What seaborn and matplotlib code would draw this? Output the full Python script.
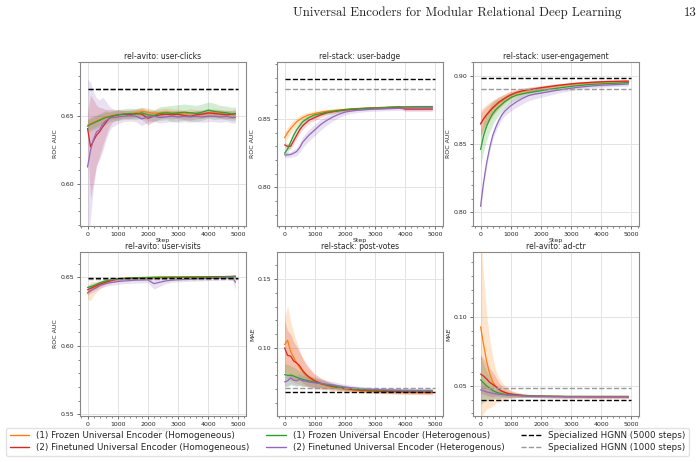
import numpy as np
import pandas as pd
import matplotlib
matplotlib.use("Agg")
import matplotlib.pyplot as plt
from matplotlib.ticker import MultipleLocator, AutoMinorLocator
from matplotlib.lines import Line2D
import seaborn as sns

# training steps shared by all runs
steps = [0, 100, 200, 300, 400, 500, 600, 700, 800, 900, 1000, 1200, 1400, 1600, 1800, 2000,
         2200, 2400, 2600, 2800, 3000, 3200, 3400, 3600, 3800, 4000, 4200, 4400, 4600, 4800, 4900]

models = ["(1) Frozen Universal Encoder (Homogeneous)",
          "(2) Finetuned Universal Encoder (Homogeneous)",
          "(1) Frozen Universal Encoder (Heterogenous)",
          "(2) Finetuned Universal Encoder (Heterogenous)"]
colors = ["#ff7f0e", "#d62728", "#2ca02c", "#9467bd"]

titles = ["rel-avito: user-clicks", "rel-stack: user-badge", "rel-stack: user-engagement",
          "rel-avito: user-visits", "rel-stack: post-votes", "rel-avito: ad-ctr"]
metrics = ["ROC AUC", "ROC AUC", "ROC AUC", "ROC AUC", "MAE", "MAE"]
hgnn_5000 = [0.6700, 0.8793, 0.8985, 0.6493, 0.0678, 0.0393]
hgnn_1000 = [0.6698, 0.8717, 0.8900, 0.6492, 0.0707, 0.0483]

# ---- rel-avito: user-clicks
clicks_mean = [
    [0.6435, 0.6445, 0.6455, 0.6465, 0.6475, 0.6485, 0.6495, 0.6500, 0.6505, 0.6508, 0.6510, 0.6515, 0.6520, 0.6525, 0.6535, 0.6530,
     0.6520, 0.6525, 0.6530, 0.6525, 0.6520, 0.6515, 0.6525, 0.6520, 0.6515, 0.6520, 0.6525, 0.6520, 0.6515, 0.6510, 0.6510],
    [0.6410, 0.6275, 0.6320, 0.6360, 0.6385, 0.6420, 0.6450, 0.6480, 0.6500, 0.6505, 0.6510, 0.6515, 0.6510, 0.6520, 0.6515, 0.6485,
     0.6500, 0.6510, 0.6515, 0.6510, 0.6515, 0.6505, 0.6500, 0.6510, 0.6515, 0.6525, 0.6520, 0.6515, 0.6510, 0.6515, 0.6520],
    [0.6425, 0.6440, 0.6450, 0.6460, 0.6470, 0.6480, 0.6490, 0.6495, 0.6500, 0.6505, 0.6510, 0.6515, 0.6520, 0.6515, 0.6525, 0.6510,
     0.6505, 0.6520, 0.6525, 0.6520, 0.6525, 0.6530, 0.6525, 0.6520, 0.6530, 0.6545, 0.6535, 0.6530, 0.6525, 0.6515, 0.6520],
    [0.6125, 0.6250, 0.6330, 0.6385, 0.6400, 0.6440, 0.6465, 0.6480, 0.6490, 0.6490, 0.6495, 0.6500, 0.6505, 0.6500, 0.6480, 0.6495,
     0.6500, 0.6490, 0.6495, 0.6500, 0.6495, 0.6500, 0.6495, 0.6500, 0.6495, 0.6500, 0.6500, 0.6495, 0.6500, 0.6490, 0.6490]]
clicks_std = [
    [0.004, 0.004, 0.004, 0.004, 0.004, 0.0035, 0.0035, 0.003, 0.003, 0.003, 0.003, 0.003, 0.003, 0.003, 0.003, 0.003,
     0.003, 0.003, 0.003, 0.003, 0.003, 0.003, 0.003, 0.003, 0.003, 0.003, 0.003, 0.003, 0.003, 0.003, 0.003],
    [0.012, 0.038, 0.030, 0.022, 0.018, 0.014, 0.010, 0.007, 0.005, 0.004, 0.004, 0.003, 0.003, 0.003, 0.004, 0.005,
     0.004, 0.003, 0.003, 0.003, 0.003, 0.003, 0.003, 0.003, 0.003, 0.003, 0.003, 0.003, 0.003, 0.003, 0.003],
    [0.005, 0.005, 0.005, 0.005, 0.005, 0.005, 0.005, 0.004, 0.004, 0.004, 0.004, 0.004, 0.004, 0.004, 0.004, 0.004,
     0.004, 0.005, 0.005, 0.006, 0.006, 0.006, 0.006, 0.006, 0.006, 0.006, 0.006, 0.005, 0.005, 0.005, 0.005],
    [0.065, 0.050, 0.035, 0.025, 0.022, 0.020, 0.015, 0.010, 0.007, 0.006, 0.005, 0.004, 0.004, 0.004, 0.005, 0.004,
     0.004, 0.004, 0.004, 0.004, 0.004, 0.004, 0.004, 0.004, 0.004, 0.004, 0.004, 0.004, 0.004, 0.004, 0.004]]

# ---- rel-stack: user-badge
badge_mean = [
    [0.8363, 0.8400, 0.8430, 0.8455, 0.8480, 0.8495, 0.8510, 0.8520, 0.8530, 0.8535, 0.8540, 0.8550, 0.8557, 0.8562, 0.8566, 0.8570,
     0.8573, 0.8576, 0.8578, 0.8580, 0.8582, 0.8584, 0.8585, 0.8587, 0.8588, 0.8590, 0.8590, 0.8590, 0.8590, 0.8590, 0.8590],
    [0.8310, 0.8300, 0.8300, 0.8340, 0.8380, 0.8420, 0.8450, 0.8470, 0.8490, 0.8500, 0.8510, 0.8530, 0.8545, 0.8553, 0.8560, 0.8566,
     0.8570, 0.8573, 0.8576, 0.8578, 0.8580, 0.8582, 0.8584, 0.8586, 0.8588, 0.8572, 0.8572, 0.8572, 0.8572, 0.8572, 0.8572],
    [0.8249, 0.8280, 0.8330, 0.8380, 0.8420, 0.8450, 0.8480, 0.8495, 0.8510, 0.8520, 0.8530, 0.8540, 0.8550, 0.8555, 0.8562, 0.8568,
     0.8572, 0.8575, 0.8577, 0.8579, 0.8580, 0.8582, 0.8584, 0.8585, 0.8587, 0.8588, 0.8589, 0.8590, 0.8590, 0.8590, 0.8590],
    [0.8237, 0.8237, 0.8240, 0.8250, 0.8262, 0.8290, 0.8330, 0.8355, 0.8380, 0.8400, 0.8420, 0.8460, 0.8490, 0.8515, 0.8535, 0.8550,
     0.8558, 0.8563, 0.8567, 0.8570, 0.8572, 0.8574, 0.8576, 0.8577, 0.8578, 0.8580, 0.8580, 0.8581, 0.8581, 0.8582, 0.8582]]
badge_std = [
    [0.004, 0.004, 0.0038, 0.0035, 0.003, 0.003, 0.0025, 0.0025, 0.002, 0.002, 0.002, 0.0015, 0.0015, 0.0012, 0.0012, 0.001,
     0.001, 0.001, 0.001, 0.001, 0.001, 0.001, 0.001, 0.001, 0.001, 0.001, 0.001, 0.001, 0.001, 0.001, 0.001],
    [0.002, 0.002, 0.002, 0.0025, 0.0025, 0.0025, 0.0025, 0.0025, 0.002, 0.002, 0.002, 0.002, 0.0015, 0.0015, 0.0012, 0.001,
     0.001, 0.001, 0.001, 0.001, 0.001, 0.001, 0.001, 0.001, 0.0012, 0.0015, 0.0015, 0.0015, 0.0015, 0.0015, 0.0015],
    [0.003, 0.003, 0.003, 0.003, 0.003, 0.0028, 0.0025, 0.0022, 0.002, 0.002, 0.002, 0.0015, 0.0015, 0.0012, 0.0012, 0.001,
     0.001, 0.001, 0.001, 0.001, 0.001, 0.001, 0.001, 0.001, 0.001, 0.001, 0.001, 0.001, 0.001, 0.001, 0.001],
    [0.002, 0.002, 0.002, 0.0025, 0.003, 0.0035, 0.004, 0.004, 0.0042, 0.0042, 0.0042, 0.004, 0.0035, 0.003, 0.0025, 0.002,
     0.0018, 0.0016, 0.0015, 0.0015, 0.0015, 0.0015, 0.0015, 0.0015, 0.0015, 0.0015, 0.0015, 0.0015, 0.0015, 0.0015, 0.0015]]

# ---- rel-stack: user-engagement
engage_mean = [
    [0.8652, 0.8680, 0.8710, 0.8735, 0.8760, 0.8780, 0.8800, 0.8815, 0.8830, 0.8845, 0.8858, 0.8875, 0.8885, 0.8893, 0.8900, 0.8908,
     0.8915, 0.8921, 0.8927, 0.8932, 0.8937, 0.8941, 0.8944, 0.8947, 0.8950, 0.8952, 0.8954, 0.8955, 0.8956, 0.8957, 0.8957],
    [0.8645, 0.8685, 0.8715, 0.8740, 0.8765, 0.8785, 0.8805, 0.8820, 0.8835, 0.8848, 0.8860, 0.8878, 0.8890, 0.8898, 0.8905, 0.8912,
     0.8918, 0.8924, 0.8930, 0.8935, 0.8940, 0.8944, 0.8947, 0.8950, 0.8953, 0.8955, 0.8957, 0.8958, 0.8959, 0.8960, 0.8960],
    [0.8460, 0.8560, 0.8630, 0.8680, 0.8720, 0.8750, 0.8770, 0.8790, 0.8810, 0.8825, 0.8840, 0.8858, 0.8868, 0.8876, 0.8883, 0.8890,
     0.8897, 0.8904, 0.8910, 0.8916, 0.8922, 0.8927, 0.8931, 0.8935, 0.8938, 0.8940, 0.8942, 0.8944, 0.8946, 0.8948, 0.8949],
    [0.8044, 0.8220, 0.8360, 0.8470, 0.8560, 0.8620, 0.8670, 0.8710, 0.8740, 0.8760, 0.8780, 0.8810, 0.8835, 0.8855, 0.8865, 0.8872,
     0.8880, 0.8888, 0.8895, 0.8902, 0.8908, 0.8914, 0.8919, 0.8923, 0.8927, 0.8930, 0.8932, 0.8934, 0.8936, 0.8938, 0.8940]]
engage_std = [
    [0.010, 0.009, 0.008, 0.007, 0.006, 0.005, 0.0045, 0.004, 0.0035, 0.003, 0.003, 0.0025, 0.002, 0.002, 0.002, 0.0015,
     0.0015, 0.0015, 0.0015, 0.0012, 0.0012, 0.0012, 0.0012, 0.0012, 0.0012, 0.0012, 0.0012, 0.0012, 0.0012, 0.0012, 0.0012],
    [0.008, 0.007, 0.006, 0.0055, 0.005, 0.0045, 0.004, 0.0035, 0.003, 0.003, 0.0025, 0.002, 0.002, 0.0018, 0.0015, 0.0015,
     0.0015, 0.0015, 0.0012, 0.0012, 0.0012, 0.0012, 0.0012, 0.0012, 0.0012, 0.0012, 0.0012, 0.0012, 0.0012, 0.0012, 0.0012],
    [0.012, 0.011, 0.010, 0.009, 0.008, 0.007, 0.006, 0.005, 0.0045, 0.004, 0.0035, 0.003, 0.0025, 0.002, 0.002, 0.0018,
     0.0018, 0.0015, 0.0015, 0.0015, 0.0015, 0.0015, 0.0015, 0.0015, 0.0015, 0.0015, 0.0015, 0.0015, 0.0015, 0.0015, 0.0015],
    [0.003, 0.003, 0.003, 0.003, 0.003, 0.003, 0.003, 0.003, 0.0032, 0.0035, 0.0038, 0.004, 0.004, 0.0038, 0.0035, 0.003,
     0.0028, 0.0025, 0.002, 0.002, 0.0018, 0.0015, 0.0015, 0.0015, 0.0015, 0.0015, 0.0015, 0.0015, 0.0015, 0.0015, 0.0015]]

# ---- rel-avito: user-visits
visits_mean = [
    [0.6382, 0.6400, 0.6420, 0.6432, 0.6445, 0.6455, 0.6465, 0.6472, 0.6478, 0.6483, 0.6487, 0.6492, 0.6495, 0.6497, 0.6499, 0.6500,
     0.6501, 0.6502, 0.6502, 0.6503, 0.6503, 0.6503, 0.6504, 0.6504, 0.6504, 0.6505, 0.6505, 0.6505, 0.6505, 0.6505, 0.6505],
    [0.6410, 0.6420, 0.6430, 0.6440, 0.6450, 0.6458, 0.6465, 0.6472, 0.6478, 0.6483, 0.6488, 0.6492, 0.6494, 0.6496, 0.6497, 0.6498,
     0.6499, 0.6500, 0.6500, 0.6501, 0.6500, 0.6501, 0.6502, 0.6502, 0.6503, 0.6504, 0.6505, 0.6505, 0.6506, 0.6507, 0.6508],
    [0.6426, 0.6433, 0.6440, 0.6450, 0.6460, 0.6468, 0.6475, 0.6480, 0.6485, 0.6488, 0.6490, 0.6493, 0.6495, 0.6497, 0.6498, 0.6499,
     0.6500, 0.6500, 0.6501, 0.6501, 0.6501, 0.6502, 0.6502, 0.6502, 0.6503, 0.6503, 0.6503, 0.6504, 0.6505, 0.6506, 0.6507],
    [0.6390, 0.6402, 0.6415, 0.6425, 0.6440, 0.6448, 0.6455, 0.6460, 0.6463, 0.6466, 0.6470, 0.6474, 0.6477, 0.6480, 0.6481, 0.6482,
     0.6455, 0.6465, 0.6475, 0.6480, 0.6483, 0.6485, 0.6487, 0.6489, 0.6490, 0.6492, 0.6494, 0.6496, 0.6498, 0.6500, 0.6465]]
visits_std = [
    [0.004, 0.007, 0.005, 0.004, 0.003, 0.0025, 0.002, 0.002, 0.0015, 0.0015, 0.0012, 0.001, 0.001, 0.001, 0.001, 0.001,
     0.001, 0.001, 0.001, 0.001, 0.001, 0.001, 0.001, 0.001, 0.001, 0.001, 0.001, 0.001, 0.001, 0.001, 0.001],
    [0.002, 0.002, 0.002, 0.0018, 0.0015, 0.0015, 0.0012, 0.0012, 0.001, 0.001, 0.001, 0.001, 0.001, 0.001, 0.001, 0.001,
     0.001, 0.001, 0.001, 0.001, 0.001, 0.001, 0.001, 0.001, 0.001, 0.001, 0.001, 0.001, 0.001, 0.001, 0.001],
    [0.002, 0.002, 0.002, 0.0018, 0.0015, 0.0015, 0.0012, 0.0012, 0.001, 0.001, 0.001, 0.001, 0.001, 0.001, 0.001, 0.001,
     0.001, 0.001, 0.001, 0.001, 0.001, 0.001, 0.001, 0.001, 0.001, 0.001, 0.001, 0.001, 0.001, 0.001, 0.001],
    [0.002, 0.002, 0.002, 0.002, 0.002, 0.002, 0.002, 0.002, 0.002, 0.002, 0.002, 0.002, 0.002, 0.002, 0.002, 0.002,
     0.004, 0.003, 0.002, 0.0015, 0.0015, 0.0015, 0.0015, 0.0015, 0.0015, 0.0015, 0.0015, 0.0015, 0.0015, 0.002, 0.0055]]

# ---- rel-stack: post-votes
votes_mean = [
    [0.1024, 0.1055, 0.0975, 0.0930, 0.0890, 0.0855, 0.0825, 0.0800, 0.0780, 0.0765, 0.0752, 0.0735, 0.0722, 0.0712, 0.0704, 0.0698,
     0.0693, 0.0689, 0.0686, 0.0684, 0.0682, 0.0680, 0.0679, 0.0678, 0.0677, 0.0676, 0.0675, 0.0674, 0.0673, 0.0672, 0.0672],
    [0.1000, 0.0945, 0.0940, 0.0905, 0.0890, 0.0870, 0.0835, 0.0810, 0.0790, 0.0775, 0.0760, 0.0742, 0.0728, 0.0718, 0.0710, 0.0704,
     0.0698, 0.0694, 0.0691, 0.0688, 0.0686, 0.0684, 0.0683, 0.0682, 0.0681, 0.0680, 0.0679, 0.0679, 0.0678, 0.0678, 0.0677],
    [0.0805, 0.0800, 0.0800, 0.0795, 0.0785, 0.0778, 0.0770, 0.0765, 0.0760, 0.0755, 0.0750, 0.0740, 0.0730, 0.0722, 0.0714, 0.0708,
     0.0703, 0.0699, 0.0696, 0.0693, 0.0691, 0.0690, 0.0689, 0.0688, 0.0687, 0.0687, 0.0686, 0.0686, 0.0686, 0.0685, 0.0685],
    [0.0752, 0.0760, 0.0780, 0.0765, 0.0760, 0.0770, 0.0760, 0.0758, 0.0752, 0.0748, 0.0745, 0.0740, 0.0735, 0.0730, 0.0722, 0.0715,
     0.0710, 0.0706, 0.0702, 0.0699, 0.0697, 0.0695, 0.0694, 0.0693, 0.0692, 0.0691, 0.0691, 0.0690, 0.0690, 0.0690, 0.0690]]
votes_std = [
    [0.020, 0.025, 0.022, 0.018, 0.015, 0.012, 0.010, 0.008, 0.007, 0.006, 0.005, 0.004, 0.003, 0.0025, 0.002, 0.0018,
     0.0015, 0.0015, 0.0015, 0.0015, 0.0015, 0.0015, 0.0015, 0.0015, 0.0015, 0.0015, 0.0015, 0.0015, 0.0015, 0.0015, 0.0015],
    [0.020, 0.018, 0.016, 0.014, 0.012, 0.010, 0.009, 0.008, 0.007, 0.006, 0.005, 0.004, 0.003, 0.0025, 0.002, 0.0018,
     0.0015, 0.0015, 0.0015, 0.0015, 0.0015, 0.0015, 0.0015, 0.0015, 0.0015, 0.0015, 0.0015, 0.0015, 0.0015, 0.0015, 0.0015],
    [0.008, 0.008, 0.007, 0.0065, 0.006, 0.0055, 0.005, 0.0045, 0.004, 0.004, 0.0035, 0.003, 0.0025, 0.002, 0.002, 0.0018,
     0.0015, 0.0015, 0.0015, 0.0015, 0.0015, 0.0015, 0.0015, 0.0015, 0.0015, 0.0015, 0.0015, 0.0015, 0.0015, 0.0015, 0.0015],
    [0.004, 0.004, 0.004, 0.004, 0.004, 0.004, 0.004, 0.0038, 0.0035, 0.0035, 0.0035, 0.003, 0.003, 0.0025, 0.0022, 0.002,
     0.0018, 0.0016, 0.0015, 0.0015, 0.0015, 0.0015, 0.0015, 0.0015, 0.0015, 0.0015, 0.0015, 0.0015, 0.0015, 0.0015, 0.0015]]

# ---- rel-avito: ad-ctr
ctr_mean = [
    [0.0929, 0.0800, 0.0680, 0.0590, 0.0530, 0.0495, 0.0472, 0.0458, 0.0450, 0.0444, 0.0439, 0.0433, 0.0429, 0.0427, 0.0425, 0.0424,
     0.0423, 0.0422, 0.0422, 0.0421, 0.0421, 0.0421, 0.0420, 0.0420, 0.0420, 0.0420, 0.0420, 0.0420, 0.0420, 0.0420, 0.0420],
    [0.0585, 0.0570, 0.0550, 0.0525, 0.0510, 0.0495, 0.0475, 0.0462, 0.0452, 0.0445, 0.0440, 0.0434, 0.0430, 0.0427, 0.0425, 0.0424,
     0.0423, 0.0422, 0.0422, 0.0421, 0.0421, 0.0421, 0.0421, 0.0420, 0.0420, 0.0420, 0.0420, 0.0420, 0.0420, 0.0420, 0.0420],
    [0.0544, 0.0520, 0.0500, 0.0482, 0.0465, 0.0455, 0.0447, 0.0442, 0.0438, 0.0435, 0.0433, 0.0430, 0.0428, 0.0426, 0.0425, 0.0424,
     0.0423, 0.0423, 0.0422, 0.0422, 0.0422, 0.0422, 0.0422, 0.0422, 0.0422, 0.0422, 0.0422, 0.0422, 0.0422, 0.0422, 0.0422],
    [0.0470, 0.0463, 0.0455, 0.0450, 0.0445, 0.0441, 0.0438, 0.0436, 0.0434, 0.0432, 0.0430, 0.0428, 0.0426, 0.0425, 0.0424, 0.0423,
     0.0422, 0.0422, 0.0422, 0.0421, 0.0421, 0.0421, 0.0421, 0.0421, 0.0421, 0.0421, 0.0421, 0.0421, 0.0421, 0.0421, 0.0421]]
ctr_std = [
    [0.070, 0.050, 0.035, 0.025, 0.018, 0.012, 0.009, 0.007, 0.005, 0.004, 0.003, 0.002, 0.0015, 0.0012, 0.001, 0.001,
     0.001, 0.001, 0.001, 0.001, 0.001, 0.001, 0.001, 0.001, 0.001, 0.001, 0.001, 0.001, 0.001, 0.001, 0.001],
    [0.014, 0.013, 0.012, 0.010, 0.009, 0.007, 0.005, 0.004, 0.003, 0.003, 0.002, 0.0015, 0.0012, 0.001, 0.001, 0.001,
     0.001, 0.001, 0.001, 0.001, 0.001, 0.001, 0.001, 0.001, 0.001, 0.001, 0.001, 0.001, 0.001, 0.001, 0.001],
    [0.018, 0.014, 0.011, 0.008, 0.006, 0.005, 0.004, 0.003, 0.003, 0.002, 0.002, 0.0015, 0.0012, 0.001, 0.001, 0.001,
     0.001, 0.001, 0.001, 0.001, 0.001, 0.001, 0.001, 0.001, 0.001, 0.001, 0.001, 0.001, 0.001, 0.001, 0.001],
    [0.006, 0.005, 0.0045, 0.004, 0.0035, 0.003, 0.003, 0.0025, 0.002, 0.002, 0.002, 0.0015, 0.0012, 0.001, 0.001, 0.001,
     0.001, 0.001, 0.001, 0.001, 0.001, 0.001, 0.001, 0.001, 0.001, 0.001, 0.001, 0.001, 0.001, 0.001, 0.001]]

means = [clicks_mean, badge_mean, engage_mean, visits_mean, votes_mean, ctr_mean]
stds = [clicks_std, badge_std, engage_std, visits_std, votes_std, ctr_std]
ylims = [(0.569, 0.690), (0.7717, 0.8917), (0.790, 0.910),
         (0.5488, 0.6686), (0.0504, 0.1698), (0.028, 0.1474)]

sns.set_style("whitegrid")
plt.rcParams["font.family"] = ["DejaVu Sans"]

fig = plt.figure(figsize=(6.99, 4.62), dpi=100)
lefts = [0.1144, 0.3963, 0.6767]
bottoms = [0.5108, 0.0996]
W, H = 0.2375, 0.355

for k in range(6):
    r, c = divmod(k, 3)
    ax = fig.add_axes([lefts[c], bottoms[r], W, H])
    rows = []
    for m in range(4):
        for s, v in zip(steps, means[k][m]):
            rows.append({"step": s, "value": v, "model": models[m]})
    df = pd.DataFrame(rows)
    for m in range(4):
        mu = np.array(means[k][m])
        sd = np.array(stds[k][m])
        ax.fill_between(steps, mu - sd, mu + sd, color=colors[m], alpha=0.2, lw=0)
    sns.lineplot(data=df, x="step", y="value", hue="model", hue_order=models,
                 palette=colors, lw=0.9, ax=ax, legend=False, errorbar=None)
    ax.plot([0, 5000], [hgnn_1000[k]] * 2, ls="--", color="#999999", lw=1.0)
    ax.plot([0, 5000], [hgnn_5000[k]] * 2, ls="--", color="black", lw=1.0)
    ax.set_xlim(-250, 5250)
    ax.set_ylim(*ylims[k])
    ax.xaxis.set_major_locator(MultipleLocator(1000))
    ax.xaxis.set_minor_locator(AutoMinorLocator(5))
    ax.yaxis.set_major_locator(MultipleLocator(0.05))
    ax.yaxis.set_minor_locator(MultipleLocator(0.01))
    ax.yaxis.set_major_formatter(matplotlib.ticker.FormatStrFormatter("%.2f"))
    ax.tick_params(which="major", length=2.5, width=0.6, labelsize=4.5, pad=1.5,
                   bottom=True, left=True, color="#555555")
    ax.tick_params(which="minor", length=1.5, width=0.5, bottom=True, left=True, color="#555555")
    ax.grid(True, which="major", color="#e3e3e3", lw=0.7)
    ax.grid(False, which="minor")
    for sp in ax.spines.values():
        sp.set_color("#888888")
        sp.set_linewidth(0.8)
    ax.set_title(titles[k], fontsize=5.5, pad=2)
    ax.set_xlabel("Step", fontsize=4.5, labelpad=1)
    ax.set_ylabel(metrics[k], fontsize=4.5, labelpad=2)

handles = [Line2D([], [], color=colors[m], lw=1) for m in range(4)]
handles += [Line2D([], [], color="black", ls="--", lw=1),
            Line2D([], [], color="#999999", ls="--", lw=1)]
labels = models + ["Specialized HGNN (5000 steps)", "Specialized HGNN (1000 steps)"]
leg = fig.legend(handles, labels, ncol=3, mode="expand", fontsize=6.3,
                 bbox_to_anchor=(0.009, 0.013, 0.976, 0.062), loc="lower left",
                 frameon=True, framealpha=0.85, edgecolor="#dddddd",
                 handlelength=2.2, borderaxespad=0, labelspacing=0.35)
leg.set_zorder(10)

fig.text(0.889, 0.972, "Universal Encoders for Modular Relational Deep Learning",
         ha="right", va="center", fontsize=9.3, family="cmr10")
fig.text(0.997, 0.972, "13", ha="right", va="center", fontsize=9.3, family="cmr10")

fig.savefig("out.png", dpi=100)
